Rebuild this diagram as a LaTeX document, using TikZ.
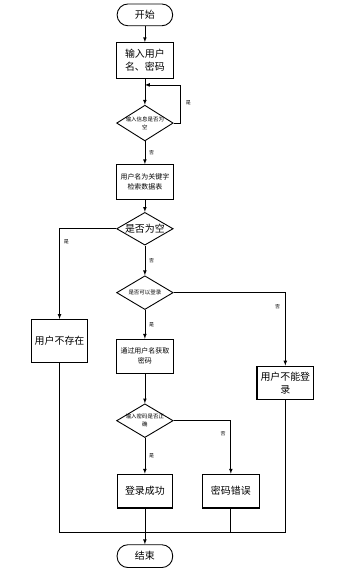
\documentclass[tikz,border=0pt]{standalone}
\usepackage{fontspec}
\setmainfont{Noto Sans CJK SC}
\usetikzlibrary{shapes,arrows,positioning,calc}

\begin{document}
\begin{tikzpicture}[
  >=latex,
  line width=0.7pt,
  term/.style={rectangle, draw, rounded corners=11pt, line width=0.9pt,
               minimum width=56pt, minimum height=22pt,
               font=\fontsize{10pt}{12pt}\selectfont},
  box/.style={rectangle, draw, line width=1.1pt, minimum width=57pt,
              minimum height=34pt, align=center,
              font=\fontsize{10pt}{13pt}\selectfont},
  small/.style={font=\fontsize{7pt}{10pt}\selectfont},
  dec/.style={diamond, draw, line width=0.9pt, aspect=1.6, inner sep=-1.5pt,
              minimum width=57pt, minimum height=35pt, align=center,
              font=\fontsize{5.5pt}{8.5pt}\selectfont},
  lbl/.style={font=\fontsize{5pt}{6pt}\selectfont, inner sep=1pt}
]
  \node[term] (start) {开始};
  \node[box, minimum width=58pt, minimum height=36pt, below=16pt of start] (input) {输入用户\\名、密码};
  \node[dec, minimum height=36pt, below=26pt of input] (chk) {输入信息是否为\\空};
  \node[box, small, minimum height=35pt, below=23pt of chk] (query) {用户名为关键字\\检索数据表};
  \node[dec, font=\fontsize{10pt}{12pt}\selectfont, minimum height=33pt, below=12pt of query] (empty) {是否为空};
  \node[dec, minimum height=34pt, below=30pt of empty] (canlog) {是否可以登录};
  \node[box, small, below=29pt of canlog] (getpwd) {通过用户名获取\\密码};
  \node[dec, minimum height=34pt, below=30pt of getpwd] (pwdok) {输入密码是否正\\确};
  \node[box, minimum width=56pt, below=36pt of pwdok] (ok) {登录成功};
  \node[box, right=29pt of ok] (pwderr) {密码错误};
  \node[term, minimum height=23pt, below=36pt of ok] (end) {结束};
  \node[box, minimum width=56pt, minimum height=43pt, below=74pt of empty, xshift=-86pt] (nouser) {用户不存在};
  \node[box, below=56pt of canlog, xshift=141.5pt] (cannot) {用户不能登\\录};
  \coordinate[below=6pt of input] (back);
  \coordinate[below=24pt of ok] (merge);

  \draw[->] (start) -- (input);
  \draw[->] (input) -- (chk);
  \draw[->] (chk.east) -- ++(7pt,0) |- node[lbl, pos=0.26, right=4pt] {是} (back);
  \draw[->] (chk) -- node[lbl, right=3pt] {否} (query);
  \draw[->] (query) -- (empty);
  \draw[->] (empty.west) -| node[lbl, pos=0.57, right=3pt] {是} (nouser.north);
  \draw[->] (empty) -- node[lbl, right=3pt] {否} (canlog);
  \draw[->] (canlog.east) -| node[lbl, pos=0.6, left=4pt] {否} (cannot.north);
  \draw[->] (canlog) -- node[lbl, right=3pt] {是} (getpwd);
  \draw[->] (getpwd) -- (pwdok);
  \draw[->] (pwdok.east) -| node[lbl, pos=0.62, left=4pt] {否} (pwderr.north);
  \draw[->] (pwdok) -- node[lbl, right=3pt] {是} (ok);
  \draw[->] (ok) -- (end);
  \draw (nouser) |- (merge);
  \draw (cannot) |- (merge);
  \draw (pwderr) |- (merge);

  \useasboundingbox ($(start)+(-146pt,15pt)$) rectangle ++(356pt,-568pt);
\end{tikzpicture}
\end{document}
